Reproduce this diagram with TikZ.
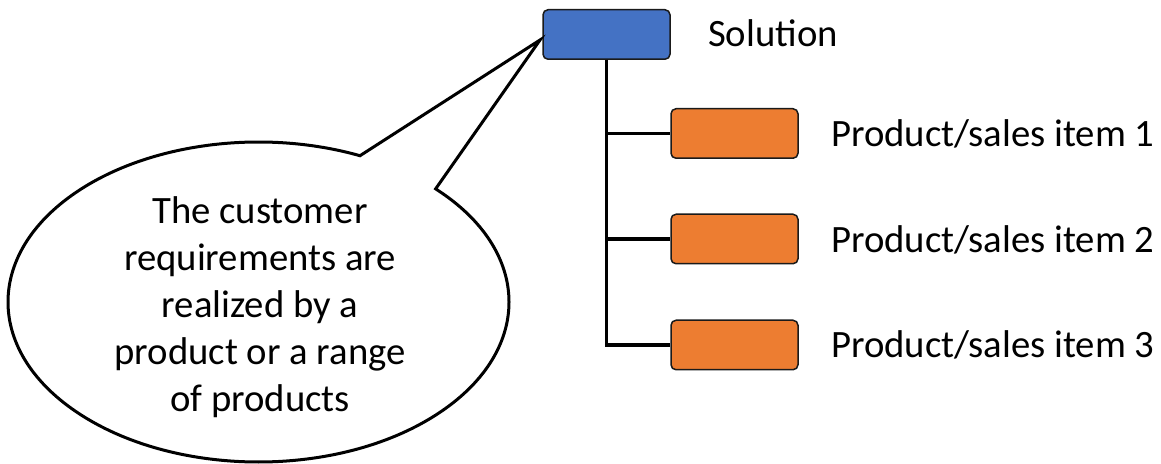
\documentclass[tikz,border=0pt]{standalone}
\usepackage{fontspec}
\setmainfont{Carlito}
\usetikzlibrary{calc}
\definecolor{solblue}{HTML}{4472C4}
\definecolor{itemorange}{HTML}{ED7D31}
\definecolor{boxedge}{HTML}{1A1A1A}
\begin{document}
\begin{tikzpicture}[x=1pt,y=1pt,
  box/.style={draw=boxedge, line width=1.5pt, rounded corners=5pt,
    minimum width=127pt, minimum height=49.5pt, inner sep=0pt},
  solbox/.style={box, fill=solblue},
  itembox/.style={box, fill=itemorange},
  lbl/.style={anchor=base west, inner sep=0pt, font=\fontsize{38.7}{46}\selectfont},
  tree/.style={line width=3.5pt, black},
  bubble/.style={draw=black, fill=white, line width=3pt, line join=miter}
]
\useasboundingbox (0,0) rectangle (1161,463);

% solution and its product boxes
\node[solbox]  (sol) at (606.5,428.5) {};
\node[itembox] (p1)  at (734.5,329.5) {};
\node[itembox] (p2)  at (734.5,224)   {};
\node[itembox] (p3)  at (734.5,118)   {};

\node[lbl] (tsol) at (708,416)   {Solution};
\node[lbl] (t1)   at (831,316)   {Product/sales item 1};
\node[lbl] (t2)   at (831,210.5) {Product/sales item 2};
\node[lbl] (t3)   at (831,105)   {Product/sales item 3};

% tree connectors
\draw[tree] (sol.south) |- (p1.west);
\draw[tree] (sol.south) |- (p2.west);
\draw[tree] (sol.south) |- (p3.west);

% speech bubble pointing at the solution box
\coordinate (c) at (258.5,161);
\coordinate (tip) at (540,423);
\draw[bubble] ($(c)+(66.1:250.5 and 160)$) -- (tip) -- ($(c)+(45:250.5 and 160)$)
  arc[start angle=45, end angle=-293.9, x radius=250.5, y radius=160] -- cycle;

\node[align=center, inner sep=0pt, font=\fontsize{38.7}{47}\selectfont]
  (note) at (260,156) {The customer\\requirements are\\realized by a\\product or a range\\of products};
\end{tikzpicture}
\end{document}
